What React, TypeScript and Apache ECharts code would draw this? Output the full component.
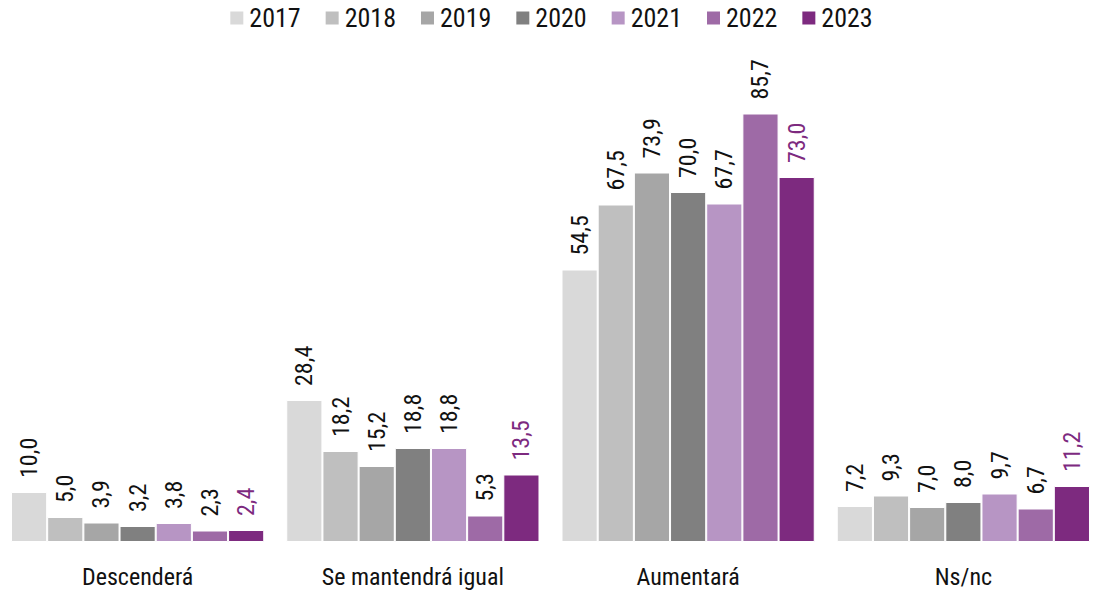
import React, { useEffect, useRef } from "react";
import * as echarts from "echarts";

const categories = ["Descenderá", "Se mantendrá igual", "Aumentará", "Ns/nc"];
const years = ["2017", "2018", "2019", "2020", "2021", "2022", "2023"];
const v2017 = [10.0, 28.4, 54.5, 7.2];
const v2018 = [5.0, 18.2, 67.5, 9.3];
const v2019 = [3.9, 15.2, 73.9, 7.0];
const v2020 = [3.2, 18.8, 70.0, 8.0];
const v2021 = [3.8, 18.8, 67.7, 9.7];
const v2022 = [2.3, 5.3, 85.7, 6.7];
const v2023 = [2.4, 13.5, 73.0, 11.2];
const values = [v2017, v2018, v2019, v2020, v2021, v2022, v2023];
const colors = ["#d9d9d9", "#bfbfbf", "#a6a6a6", "#808080", "#b795c4", "#9e6aa6", "#7d2a7f"];

const FONT = "'Roboto Condensed', 'Roboto', sans-serif";

export default function App() {
  const ref = useRef<HTMLDivElement>(null);
  useEffect(() => {
    if (!ref.current) return;
    const chart = echarts.init(ref.current, null, { renderer: "svg" });
    chart.setOption({
      animation: false,
      textStyle: { fontFamily: FONT },
      legend: {
        top: 0,
        left: "center",
        itemWidth: 15,
        itemHeight: 15,
        itemGap: 23,
        icon: "rect",
        textStyle: { fontSize: 26, color: "#111", fontFamily: FONT },
        data: years,
      },
      grid: { left: 0, right: 0, top: 42, bottom: 50 },
      xAxis: {
        type: "category",
        data: categories,
        axisLine: { show: false },
        axisTick: { show: false },
        axisLabel: { fontSize: 24, color: "#111", margin: 23, fontFamily: FONT },
      },
      yAxis: { type: "value", min: 0, max: 100, show: false, splitLine: { show: false } },
      series: years.map((y, i) => ({
        name: y,
        type: "bar",
        data: values[i],
        barGap: "0%",
        barCategoryGap: "8%",
        itemStyle: { color: colors[i], borderColor: "#ffffff", borderWidth: 1 },
        label: {
          show: true,
          position: "top",
          rotate: 90,
          align: "left",
          verticalAlign: "middle",
          distance: 14,
          fontSize: 24,
          fontFamily: FONT,
          color: i === 6 ? "#7d2a7f" : "#111",
          formatter: (p: any) => p.value.toFixed(1).replace(".", ","),
        },
      })),
    });
    return () => chart.dispose();
  }, []);
  return (
    <div
      ref={ref}
      style={{ position: "fixed", left: 0, top: 0, width: 1101, height: 592, background: "#fff" }}
    />
  );
}
